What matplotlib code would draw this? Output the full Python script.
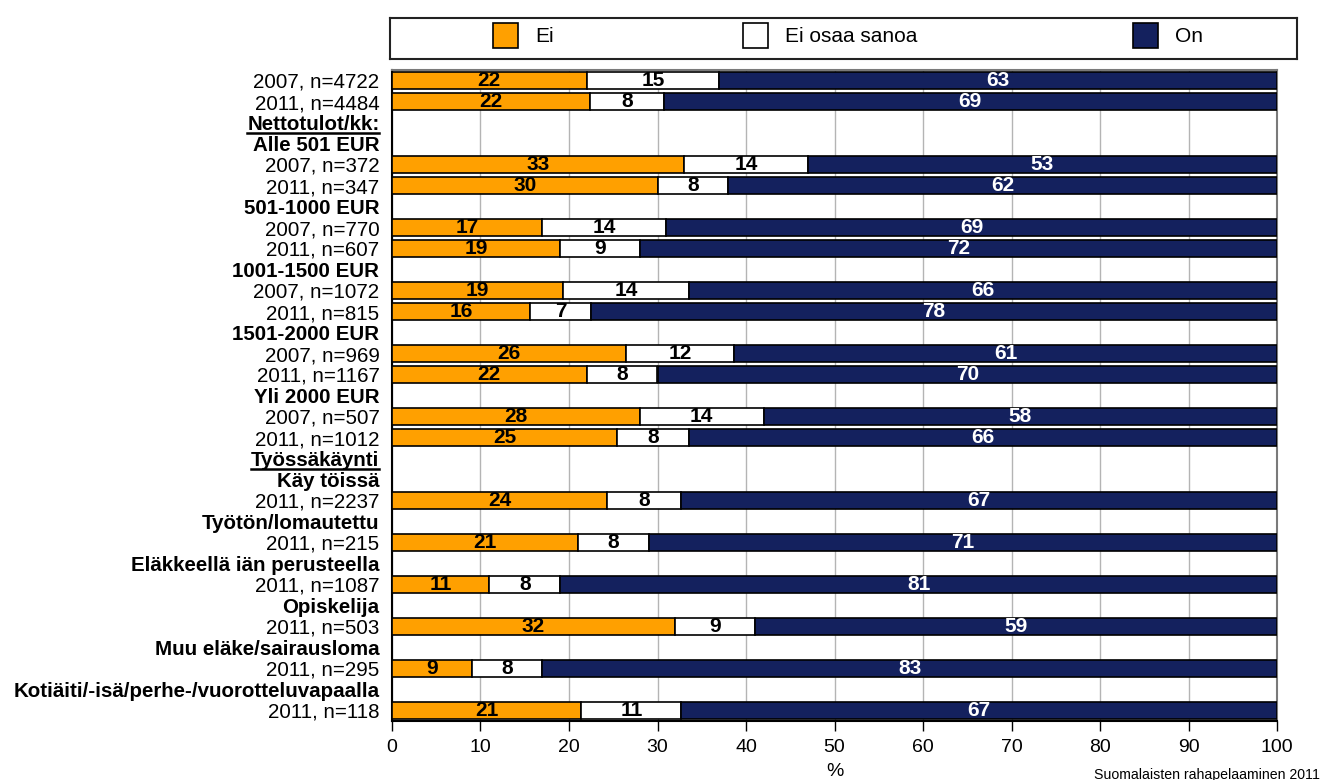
import numpy as np
import matplotlib
matplotlib.use("Agg")
import matplotlib.pyplot as plt
from matplotlib.patches import Rectangle
from matplotlib.lines import Line2D

plt.rcParams['font.family'] = ['Liberation Sans', 'DejaVu Sans']

# rows from top to bottom, headers have no bars
row_labels = ["2007, n=4722", "2011, n=4484", "Nettotulot/kk:", "Alle 501 EUR",
              "2007, n=372", "2011, n=347", "501-1000 EUR",
              "2007, n=770", "2011, n=607", "1001-1500 EUR",
              "2007, n=1072", "2011, n=815", "1501-2000 EUR",
              "2007, n=969", "2011, n=1167", "Yli 2000 EUR",
              "2007, n=507", "2011, n=1012", "Työssäkäynti", "Käy töissä",
              "2011, n=2237", "Työtön/lomautettu",
              "2011, n=215", "Eläkkeellä iän perusteella",
              "2011, n=1087", "Opiskelija",
              "2011, n=503", "Muu eläke/sairausloma",
              "2011, n=295", "Kotiäiti/-isä/perhe-/vuorotteluvapaalla",
              "2011, n=118"]
headers = ["Nettotulot/kk:", "Alle 501 EUR", "501-1000 EUR", "1001-1500 EUR",
           "1501-2000 EUR", "Yli 2000 EUR", "Työssäkäynti", "Käy töissä",
           "Työtön/lomautettu", "Eläkkeellä iän perusteella", "Opiskelija",
           "Muu eläke/sairausloma", "Kotiäiti/-isä/perhe-/vuorotteluvapaalla"]
underlined = ["Nettotulot/kk:", "Työssäkäynti"]

series = ["Ei", "Ei osaa sanoa", "On"]
ei = [22.0, 22.4, 33.0, 30.0, 17.0, 19.0, 19.3, 15.6, 26.4, 22.0, 28.0, 25.4,
      24.3, 21.0, 11.0, 32.0, 9.0, 21.4]
ei_osaa = [15.0, 8.3, 14.0, 8.0, 14.0, 9.0, 14.3, 6.9, 12.3, 8.0, 14.0, 8.2,
           8.4, 8.0, 8.0, 9.0, 8.0, 11.3]
on = [63.0, 69.3, 53.0, 62.0, 69.0, 72.0, 66.4, 77.5, 61.3, 70.0, 58.0, 66.4,
      67.3, 71.0, 81.0, 59.0, 83.0, 67.3]

colors = ['#FFA000', '#FFFFFF', '#14215E']
text_colors = ['black', 'black', 'white']

W, H = 1324, 780
fig = plt.figure(figsize=(W / 100, H / 100), dpi=100)
ax = fig.add_axes([392 / W, 1 - 721 / H, 885 / W, 651 / H])

ypos = np.arange(len(row_labels))
data_y = np.array([i for i, l in enumerate(row_labels) if l not in headers])

left = np.zeros(len(data_y))
for vals, col, tcol, name in zip([ei, ei_osaa, on], colors, text_colors, series):
    vals = np.array(vals)
    bars = ax.barh(data_y, vals, left=left, height=0.8, color=col,
                   edgecolor='black', linewidth=1.2, zorder=3, label=name)
    ax.bar_label(bars, labels=['%.0f' % v for v in vals], label_type='center',
                 color=tcol, fontsize=15, fontweight='bold', zorder=4)
    left = left + vals

ax.set_xlim(0, 100)
ax.set_ylim(len(row_labels) - 0.5, -0.5)
ax.set_xticks(range(0, 101, 10))
ax.tick_params(axis='x', labelsize=14, length=7, width=1, direction='out', pad=6)
ax.set_yticks(ypos)
ax.set_yticklabels(row_labels, fontsize=14.8)
ax.tick_params(axis='y', length=0, pad=9)
for lab in ax.get_yticklabels():
    if lab.get_text() in headers:
        lab.set_fontweight('bold')
ax.xaxis.grid(True, color='#b4b4b4', linewidth=1, zorder=0)
ax.set_axisbelow(True)
ax.set_xlabel('%', fontsize=14, labelpad=5)

for s in ['top', 'right']:
    ax.spines[s].set_color('#7a7a7a')
    ax.spines[s].set_linewidth(1.5)
for s in ['left', 'bottom']:
    ax.spines[s].set_color('black')
    ax.spines[s].set_linewidth(1.5)

# legend box drawn as its own axes
lax = fig.add_axes([390 / W, 1 - 59 / H, 907 / W, 41 / H])
lax.set_xlim(0, 907)
lax.set_ylim(0, 41)
lax.set_xticks([])
lax.set_yticks([])
for s in lax.spines.values():
    s.set_linewidth(1.5)
    s.set_color('#222222')
for x0, col, name in zip([103, 353, 743], colors, series):
    lax.add_patch(Rectangle((x0, 11), 25, 25, facecolor=col, edgecolor='black', linewidth=1.2))
    lax.text(x0 + 42, 22.5, name, va='center', ha='left', fontsize=15)

fig.text(1320 / W, 1 - 768 / H, 'Suomalaisten rahapelaaminen 2011',
         ha='right', va='top', fontsize=10.2)

# underline the main section headers
fig.canvas.draw()
renderer = fig.canvas.get_renderer()
for lab in ax.get_yticklabels():
    if lab.get_text() in underlined:
        bb = lab.get_window_extent(renderer)
        y = (bb.y0 + 1) / H
        fig.add_artist(Line2D([bb.x0 / W, bb.x1 / W], [y, y], color='black',
                              linewidth=1.8, transform=fig.transFigure))

fig.savefig('out.png', dpi=100)
